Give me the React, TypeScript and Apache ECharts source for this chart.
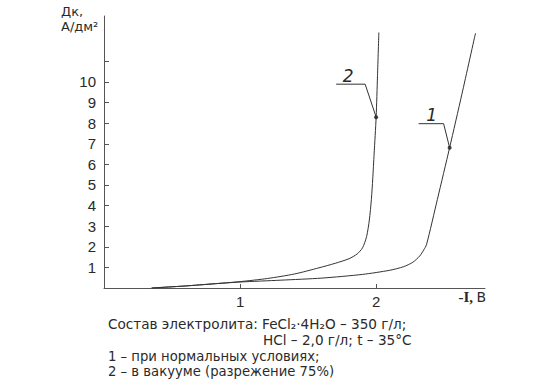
import React, { useEffect, useRef } from "react";
import * as echarts from "echarts";

// Curve 1 – normal conditions
const curve1X = [0.35, 0.6, 0.8, 1.0, 1.3, 1.6, 1.9, 2.1, 2.2, 2.27, 2.32, 2.35, 2.37, 2.45, 2.54, 2.63, 2.73];
const curve1Y = [0, 0.1, 0.2, 0.29, 0.38, 0.48, 0.66, 0.86, 1.03, 1.25, 1.55, 1.85, 2.1, 4.3, 6.81, 9.4, 12.36];
// Curve 2 – vacuum
const curve2X = [0.35, 0.6, 0.8, 1.0, 1.2, 1.4, 1.58, 1.7, 1.8, 1.86, 1.9, 1.93, 1.95, 1.965, 1.975, 1.985, 2.0, 2.01, 2.02];
const curve2Y = [0, 0.1, 0.2, 0.31, 0.46, 0.68, 0.98, 1.2, 1.42, 1.65, 1.95, 2.5, 3.3, 4.3, 5.3, 6.5, 8.29, 10.3, 12.4];

// Marked points with callout labels
const markX = [2.54, 2.0];
const markY = [6.81, 8.29];
const markNames = ["1", "2"];

const yLabelValues = [1, 2, 3, 4, 5, 6, 7, 8, 9, 10];
const yTickValues = [1, 2, 3, 4, 5, 6, 7, 8, 9, 10, 11];
const xTickValues = [1, 2];

const yAxisTitle = ["Дк,", "А/дм²"];
const noteLines = [
  "Состав электролита: FeCl₂·4H₂O – 350 г/л;",
  "HCl – 2,0 г/л; t – 35°C",
  "1 – при нормальных условиях;",
  "2 – в вакууме (разрежение 75%)",
];

const TEXT = "#2a2a2a";
const LINE = "#333";
const FONT = "'DejaVu Sans', 'Noto Sans', sans-serif";
const NARROW = "'Liberation Sans Narrow', 'Liberation Sans', sans-serif";

export default function App() {
  const ref = useRef<HTMLDivElement>(null);
  useEffect(() => {
    if (!ref.current) return;
    const chart = echarts.init(ref.current, undefined, { renderer: "svg" });
    const c1 = curve1X.map((x, i) => [x, curve1Y[i]]);
    const c2 = curve2X.map((x, i) => [x, curve2Y[i]]);
    const pts = markX.map((x, i) => [x, markY[i]]);
    chart.setOption({
      animation: false,
      backgroundColor: "#fff",
      grid: { left: 104, right: 52, top: 16, bottom: 97 },
      xAxis: {
        type: "value",
        min: 0,
        max: 2.8,
        splitLine: { show: false },
        axisLine: { lineStyle: { color: "#555", width: 1 } },
        axisTick: { inside: true, length: 4, customValues: xTickValues, lineStyle: { color: "#555" } },
        axisLabel: { customValues: xTickValues, margin: 6, color: TEXT, fontFamily: NARROW, fontSize: 15 },
      },
      yAxis: {
        type: "value",
        min: 0,
        max: 13.2,
        splitLine: { show: false },
        axisLine: { show: true, lineStyle: { color: "#555", width: 1 } },
        axisTick: { show: true, inside: true, length: 5, customValues: yTickValues, lineStyle: { color: "#555" } },
        axisLabel: { customValues: yLabelValues, margin: 8, color: TEXT, fontFamily: NARROW, fontSize: 15 },
      },
      series: [
        {
          type: "line",
          data: c1,
          smooth: 0.25,
          showSymbol: false,
          lineStyle: { color: LINE, width: 1 },
          silent: true,
        },
        {
          type: "line",
          data: c2,
          smooth: 0.25,
          showSymbol: false,
          lineStyle: { color: LINE, width: 1 },
          silent: true,
        },
        {
          type: "scatter",
          data: pts,
          symbolSize: 4,
          itemStyle: { color: "#111" },
          silent: true,
        },
      ],
    });

    const noteStyle = (text: string, size: number) => ({
      text,
      fill: TEXT,
      font: `${size}px ${FONT}`,
      lineHeight: size,
      verticalAlign: "middle",
    });

    const graphics: any[] = [
      {
        type: "text",
        left: 61,
        top: 4,
        style: { text: yAxisTitle.join("\n"), fill: TEXT, font: `13px ${FONT}`, lineHeight: 15 },
      },
      {
        type: "text",
        x: 486,
        y: 297,
        style: {
          text: "{a|-I,} {b|В}",
          align: "right",
          verticalAlign: "middle",
          rich: {
            a: { fontFamily: "'Liberation Serif', serif", fontWeight: "bold", fontSize: 15, fill: TEXT },
            b: { fontFamily: FONT, fontSize: 14, fill: TEXT },
          },
        },
      },
      { type: "text", x: 108, y: 324, style: noteStyle(noteLines[0], 13.6) },
      { type: "text", x: 263, y: 340, style: noteStyle(noteLines[1], 13.6) },
      { type: "text", x: 108, y: 356, style: noteStyle(noteLines[2], 13.2) },
      { type: "text", x: 108, y: 371.5, style: noteStyle(noteLines[3], 13.2) },
    ];

    // callout leaders (offsets relative to the marked points)
    const leaderOffsets = [
      { a: [-31, -24], b: [-6, -24], t: [-18, -33] },
      { a: [-40, -33], b: [-11, -33], t: [-28, -41] },
    ];
    pts.forEach((p, i) => {
      const px = chart.convertToPixel({ gridIndex: 0 }, p) as number[];
      const o = leaderOffsets[i];
      graphics.push({
        type: "polyline",
        shape: { points: [[px[0] + o.a[0], px[1] + o.a[1]], [px[0] + o.b[0], px[1] + o.b[1]], [px[0], px[1]]] },
        style: { stroke: LINE, lineWidth: 1, fill: "none" },
        silent: true,
      });
      graphics.push({
        type: "text",
        x: px[0] + o.t[0],
        y: px[1] + o.t[1],
        style: {
          text: markNames[i],
          fill: TEXT,
          font: `italic 17px ${FONT}`,
          align: "center",
          verticalAlign: "middle",
        },
      });
    });

    chart.setOption({ graphic: graphics });
    return () => chart.dispose();
  }, []);
  return (
    <div
      ref={ref}
      style={{ position: "fixed", left: 0, top: 0, width: 537, height: 385, background: "#fff" }}
    />
  );
}
